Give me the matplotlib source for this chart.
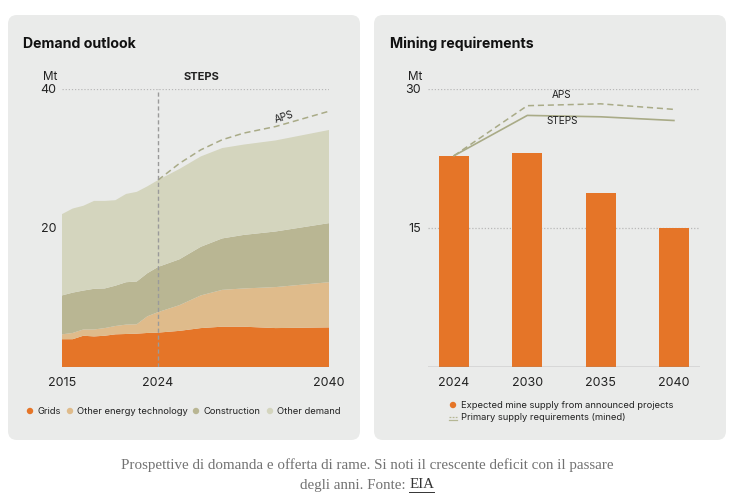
import matplotlib
matplotlib.use('Agg')
import matplotlib.pyplot as plt
from matplotlib.patches import FancyBboxPatch, Circle
from matplotlib.lines import Line2D

W, H = 731, 500

# ---- Demand outlook (Mt) ----
years = [2015, 2016, 2017, 2018, 2019, 2020, 2021, 2022, 2023, 2024,
         2026, 2028, 2030, 2032, 2035, 2040]
grids = [4.0, 4.0, 4.5, 4.4, 4.5, 4.7, 4.75, 4.8, 4.9, 4.95,
         5.2, 5.6, 5.8, 5.8, 5.6, 5.7]
other_energy = [0.7, 0.9, 0.9, 1.0, 1.1, 1.2, 1.35, 1.35, 2.4, 2.95,
                3.7, 4.7, 5.3, 5.5, 5.9, 6.5]
construction = [5.6, 5.8, 5.6, 5.85, 5.7, 5.8, 6.1, 6.15, 6.2, 6.5,
                6.6, 7.0, 7.4, 7.7, 8.0, 8.5]
other_demand = [11.7, 12.1, 12.2, 12.65, 12.6, 12.3, 12.7, 12.9, 12.5, 12.5,
                13.0, 13.0, 13.0, 13.0, 13.1, 13.4]
aps_years = [2024, 2026, 2028, 2030, 2032, 2035, 2040]
aps_total = [26.9, 29.3, 31.25, 32.7, 33.65, 34.6, 36.8]
demand_labels = ['Grids', 'Other energy technology', 'Construction', 'Other demand']

# ---- Mining requirements (Mt) ----
mining_years = ['2024', '2030', '2035', '2040']
mine_supply = [22.8, 23.1, 18.8, 15.0]
steps_req = [22.8, 27.15, 27.0, 26.6]
aps_req = [22.8, 28.2, 28.4, 27.8]

C_GRID = '#e57528'
C_OET = '#dfbb8b'
C_CONS = '#b9b693'
C_OTH = '#d4d5be'
C_LINE = '#a9ab87'
CARD = '#eaebea'
TXT = '#222222'
FONT = 'Inter'

plt.rcParams['font.family'] = [FONT, 'DejaVu Sans']

fig = plt.figure(figsize=(W / 100, H / 100), dpi=100)
fig.patch.set_facecolor('white')

bg = fig.add_axes([0, 0, 1, 1], zorder=-5)
bg.set_xlim(0, W)
bg.set_ylim(H, 0)
bg.axis('off')
for x0 in (8, 374):
    bg.add_patch(FancyBboxPatch((x0, 15), 352, 425,
                                boxstyle='round,pad=0,rounding_size=9',
                                fc=CARD, ec='none'))


def rect(l, t, r, b):
    return [l / W, 1 - b / H, (r - l) / W, (b - t) / H]


# ---------- Left panel ----------
ax1 = fig.add_axes(rect(62, 89, 329, 367))
ax1.set_facecolor('none')
ax1.set_xlim(2015, 2040)
ax1.set_ylim(0, 40)
ax1.axhline(40, color='#b8b8b8', lw=0.9, ls=(0, (1, 1.5)), zorder=0)
ax1.stackplot(years, grids, other_energy, construction, other_demand,
              colors=[C_GRID, C_OET, C_CONS, C_OTH], lw=0, zorder=2)
ax1.plot(aps_years, aps_total, color=C_LINE, lw=1.1, ls=(0, (4, 2.5)), zorder=3)
ax1.axvline(2024, ymax=1.0, color='#9a9a9a', lw=1.0, ls=(0, (3, 2)), zorder=4)
ax1.axhline(0, color='#8a8a8a', lw=0.8, zorder=5)
for s in ax1.spines.values():
    s.set_visible(False)
ax1.set_xticks([2015, 2024, 2040])
ax1.set_yticks([20, 40])
ax1.tick_params(length=0, labelsize=9, colors=TXT)
ax1.tick_params(axis='x', pad=7)
ax1.tick_params(axis='y', pad=4)
ax1.text(2035.8, 36.0, 'APS', fontsize=7.2, color=TXT, rotation=18,
         ha='center', va='center', zorder=6)

bg.text(23, 44, 'Demand outlook', fontsize=10.2, fontweight='bold', color='#111',
        va='center', ha='left')
bg.text(57, 77, 'Mt', fontsize=8.4, color=TXT, ha='right', va='center')
bg.text(201, 77, 'STEPS', fontsize=8, fontweight='bold', color=TXT,
        ha='center', va='center')

leg_x = [30, 70, 196, 270]
for xm, lab, c in zip(leg_x, demand_labels, [C_GRID, C_OET, C_CONS, C_OTH]):
    bg.add_patch(Circle((xm, 411), 3.2, fc=c, ec='none'))
    bg.text(xm + 7, 411, lab, fontsize=6.75, color=TXT, va='center', ha='left')

# ---------- Right panel ----------
ax2 = fig.add_axes(rect(428, 89, 700, 367))
ax2.set_facecolor('none')
ax2.set_xlim(-0.355, 3.356)
ax2.set_ylim(0, 30)
for yv in (15, 30):
    ax2.axhline(yv, color='#b8b8b8', lw=0.9, ls=(0, (1, 1.5)), zorder=0)
xs = list(range(len(mining_years)))
ax2.bar(xs, mine_supply, width=0.41, color=C_GRID, zorder=2)
ax2.plot(xs, steps_req, color=C_LINE, lw=1.2, zorder=3)
ax2.plot(xs, aps_req, color=C_LINE, lw=1.1, ls=(0, (4, 2.5)), zorder=3)
ax2.axhline(0, color='#8a8a8a', lw=1.0, zorder=5)
for s in ax2.spines.values():
    s.set_visible(False)
ax2.set_xticks(xs)
ax2.set_xticklabels(mining_years)
ax2.set_yticks([15, 30])
ax2.tick_params(length=0, labelsize=9, colors=TXT)
ax2.tick_params(axis='x', pad=7)
ax2.tick_params(axis='y', pad=5)
ax2.text(1.47, 29.3, 'APS', fontsize=7.2, color=TXT, ha='center', va='center')
ax2.text(1.47, 26.5, 'STEPS', fontsize=7.2, color=TXT, ha='center', va='center')

bg.text(390, 44, 'Mining requirements', fontsize=10.2, fontweight='bold', color='#111',
        va='center', ha='left')
bg.text(422, 77, 'Mt', fontsize=8.4, color=TXT, ha='right', va='center')

bg.add_patch(Circle((453, 405), 3.2, fc=C_GRID, ec='none'))
bg.text(461, 405, 'Expected mine supply from announced projects', fontsize=6.75,
        color=TXT, va='center', ha='left')
bg.add_line(Line2D([449, 457], [416.5, 416.5], color='#b5b795', lw=0.9, ls=(0, (1.5, 1))))
bg.add_line(Line2D([449, 457], [419.5, 419.5], color='#b5b795', lw=0.9))
bg.text(461, 418, 'Primary supply requirements (mined)', fontsize=6.75,
        color=TXT, va='center', ha='left')

# ---------- Caption ----------
CAP = '#727272'
cap_font = 'Liberation Serif'
CAP_SIZE = 10.8
bg.text(367, 465, 'Prospettive di domanda e offerta di rame. Si noti il crescente deficit con il passare',
        fontsize=CAP_SIZE, family=cap_font, color=CAP, ha='center', va='center')
fig.canvas.draw()
r = fig.canvas.get_renderer()
t_a = bg.text(0, 485, 'degli anni. Fonte: ', fontsize=CAP_SIZE, family=cap_font,
              color=CAP, ha='left', va='center')
t_b = bg.text(0, 485, 'EIA', fontsize=CAP_SIZE, family=cap_font,
              color='#333', ha='left', va='center')
wa = t_a.get_window_extent(r).width
wb = t_b.get_window_extent(r).width
x_start = 367 - (wa + wb) / 2
t_a.set_x(x_start)
t_b.set_x(x_start + wa)
bg.add_line(Line2D([x_start + wa, x_start + wa + wb], [492, 492], color='#333', lw=0.7))

fig.savefig('out.png', dpi=100)
